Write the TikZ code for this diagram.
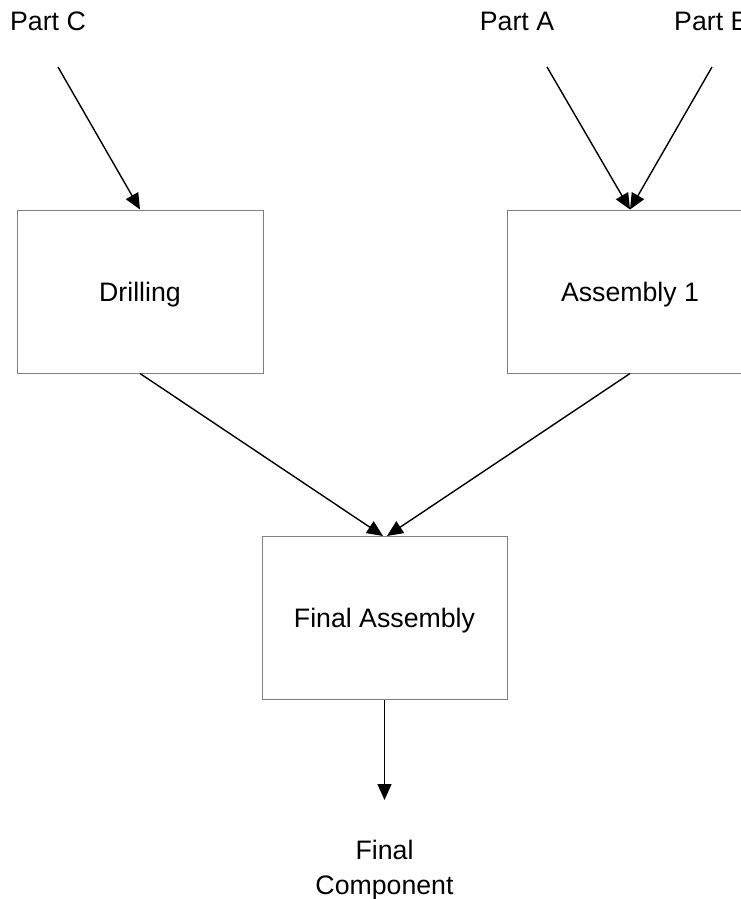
\documentclass[tikz,border=0pt]{standalone}
\usepackage{fontspec}
\setmainfont{Liberation Sans}
\usetikzlibrary{arrows.meta}

\begin{document}
\begin{tikzpicture}[x=1pt,y=-1pt,
  every node/.style={font=\fontsize{26.7}{35}\selectfont},
  procbox/.style={draw=black!50, line width=1pt, fill=white,
    minimum width=246pt, minimum height=163pt, inner sep=0pt,
    text height=19pt, text depth=0pt},
  label/.style={inner sep=0pt, anchor=base},
  flow/.style={line width=1.4pt, -{Triangle[length=16pt,width=14pt]}}
]
  \useasboundingbox (0,0) rectangle (741,899);

  % incoming parts
  \node[label] (partC) at (48,31) {Part C};
  \node[label] (partA) at (517,31) {Part A};
  \node[label, anchor=base west] (partB) at (674,31) {Part B};
  \coordinate (cIn) at (58,67);
  \coordinate (aIn) at (547,67);
  \coordinate (bIn) at (712,67);

  % process steps
  \node[procbox] (drill) at (140,291.5) {Drilling};
  \node[procbox] (asm) at (630,291.5) {Assembly 1};
  \node[procbox, minimum width=245pt] (final) at (384.5,618) {Final Assembly};

  % output (base anchor sits on the last line)
  \node[label, align=center, anchor=base] (out) at (384.5,894) {Final\\Component};
  \coordinate (outEnd) at (384.5,800);

  % flows
  \draw[flow] (cIn) -- (drill.north);
  \draw[flow] (aIn) -- (asm.north);
  \draw[flow] (bIn) -- (asm.north);
  \draw[flow] (drill.south) -- ([xshift=-1.5pt]final.north);
  \draw[flow] (asm.south) -- ([xshift=2.5pt]final.north);
  \draw[flow] (final.south) -- (outEnd);
\end{tikzpicture}
\end{document}
